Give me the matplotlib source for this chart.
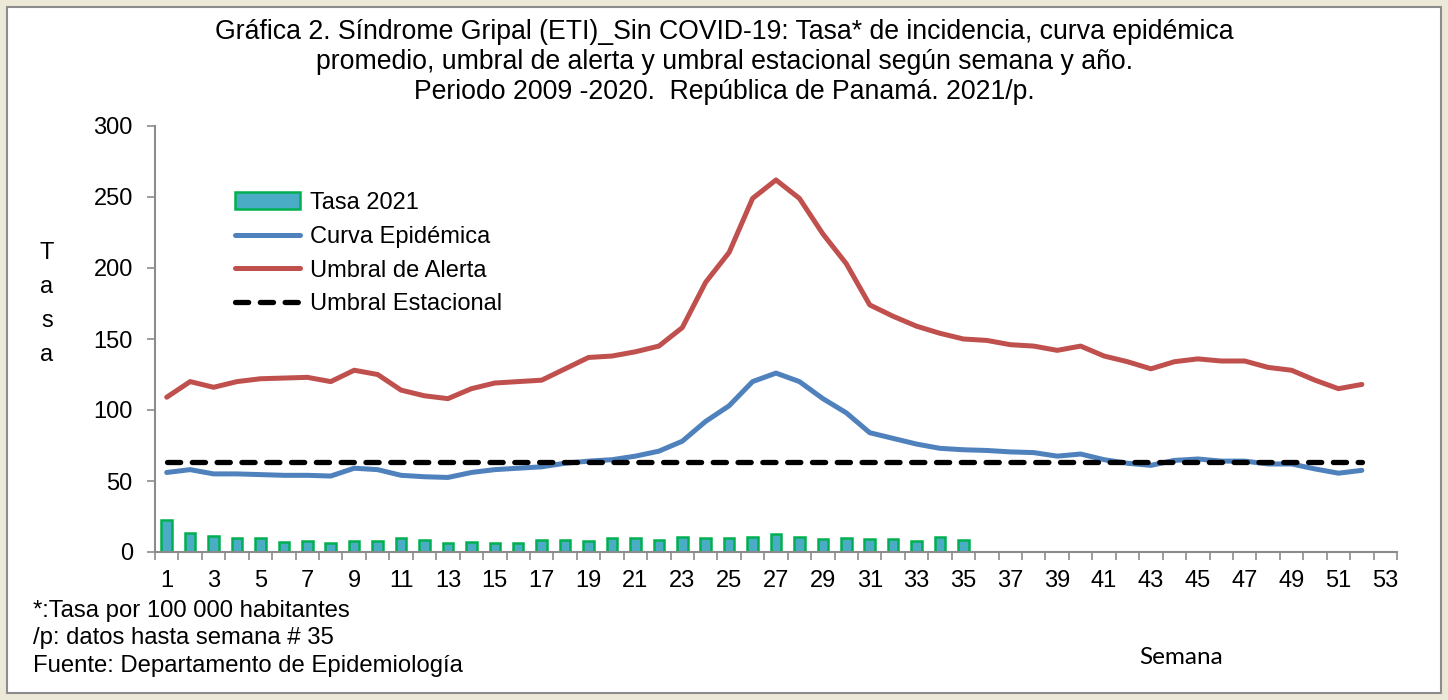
import matplotlib
matplotlib.use("Agg")
import matplotlib.pyplot as plt
from matplotlib.patches import Rectangle

plt.rcParams['font.family'] = ['Liberation Sans', 'DejaVu Sans']

# Semanas epidemiologicas
semanas = list(range(1, 53))
semanas_2021 = list(range(1, 36))

# Tasa 2021 (hasta semana 35)
tasa_2021 = [22.5, 13.4, 11.3, 9.8, 10.0, 7.0, 7.7, 6.5, 7.7, 7.7,
             10.0, 8.5, 6.1, 7.0, 6.3, 6.5, 8.5, 8.7, 7.9, 10.0,
             10.0, 8.2, 10.6, 10.0, 10.2, 10.6, 12.7, 10.6, 8.9, 10.0,
             9.5, 9.5, 7.9, 10.8, 8.5]

curva_epidemica = [56, 58, 55, 55, 54.5, 54, 54, 53.5, 59, 58,
                   54, 53, 52.5, 56, 58, 59, 60, 62.5, 64, 65,
                   67.5, 71, 78, 92, 103, 120, 126, 120, 108, 98,
                   84, 80, 76, 73, 72, 71.5, 70.5, 70, 67.5, 69,
                   65, 62.5, 61, 64.5, 65.5, 64, 64, 62, 62, 58.5,
                   55.5, 57.5]

umbral_alerta = [109, 120, 116, 120, 122, 122.5, 123, 120, 128, 125,
                 114, 110, 108, 115, 119, 120, 121, 129, 137, 138,
                 141, 145, 158, 190, 211, 249, 262, 249, 224, 203,
                 174, 166, 159, 154, 150, 149, 146, 145, 142, 145,
                 138, 134, 129, 134, 136, 134.5, 134.5, 130, 128, 121,
                 115, 118]

umbral_estacional = [63.5] * 52

titulo = ("Gráfica 2. Síndrome Gripal (ETI)_Sin COVID-19: Tasa* de incidencia, curva epidémica\n"
          "promedio, umbral de alerta y umbral estacional según semana y año.\n"
          "Periodo 2009 -2020.  República de Panamá. 2021/p.")

fig = plt.figure(figsize=(14.48, 7), dpi=100)
fig.patch.set_facecolor('#ECE9D8')
fig.patches.append(Rectangle((7 / 1448, 7 / 700), 1434 / 1448, 686 / 700,
                             transform=fig.transFigure, facecolor='white',
                             edgecolor='#8C8C8C', linewidth=1.5, zorder=-5))

ax = fig.add_axes([155 / 1448, 1 - 552 / 700, (1397 - 155) / 1448, (552 - 126) / 700])
ax.set_facecolor('none')
ax.set_zorder(2)

barras = ax.bar(semanas_2021, tasa_2021, width=0.45, color='#4BACC6', edgecolor='#00B050',
                linewidth=1.8, label='Tasa 2021', zorder=2)
l1, = ax.plot(semanas, curva_epidemica, color='#4F81BD', linewidth=3.6,
              solid_capstyle='round', solid_joinstyle='round', label='Curva Epidémica', zorder=3)
l2, = ax.plot(semanas, umbral_alerta, color='#C0504D', linewidth=3.6,
              solid_capstyle='round', solid_joinstyle='round', label='Umbral de Alerta', zorder=3)
l3, = ax.plot(semanas, umbral_estacional, color='black', linewidth=3.8,
              dashes=(2.5, 2.2), dash_capstyle='round', label='Umbral Estacional', zorder=4)

ax.set_xlim(0.5, 53.5)
ax.set_ylim(0, 300)
ax.set_yticks(range(0, 301, 50))
ax.set_xticks(range(1, 54, 2))
ax.set_xticks([k + 0.5 for k in range(0, 54)], minor=True)
ax.tick_params(axis='x', which='major', length=0, labelsize=17, pad=13)
ax.tick_params(axis='x', which='minor', length=6, color='#8C8C8C', width=1.2)
ax.tick_params(axis='y', length=6, color='#8C8C8C', width=1.2, labelsize=17, pad=10)

for side in ['top', 'right']:
    ax.spines[side].set_visible(False)
for side in ['left', 'bottom']:
    ax.spines[side].set_color('#8C8C8C')
    ax.spines[side].set_linewidth(1.5)

ax.legend([barras, l1, l2, l3], ['Tasa 2021', 'Curva Epidémica', 'Umbral de Alerta', 'Umbral Estacional'],
          loc='upper left', bbox_to_anchor=(0.047, 0.895), frameon=False,
          fontsize=17, handlelength=2.75, labelspacing=0.5, handletextpad=0.45)

fig.text(0.5, 1 - 62 / 700, titulo, ha='center', va='center', fontsize=19.2, linespacing=1.2)
fig.text(47 / 1448, 1 - 304 / 700, "T\na\ns\na", ha='center', va='center',
         fontsize=17, linespacing=1.7)

fig.text(33 / 1448, 1 - 611 / 700, "*:Tasa por 100 000 habitantes", fontsize=17.2, va='center')
fig.text(33 / 1448, 1 - 638 / 700, "/p: datos hasta semana # 35", fontsize=17.2, va='center')
fig.text(33 / 1448, 1 - 666 / 700, "Fuente: Departamento de Epidemiología", fontsize=17.2, va='center')
fig.text(1181 / 1448, 1 - 657 / 700, "Semana", fontsize=17.5, va='center', ha='center',
         family=['Lato', 'DejaVu Sans'])

fig.savefig('out.png', dpi=100, facecolor=fig.get_facecolor())
